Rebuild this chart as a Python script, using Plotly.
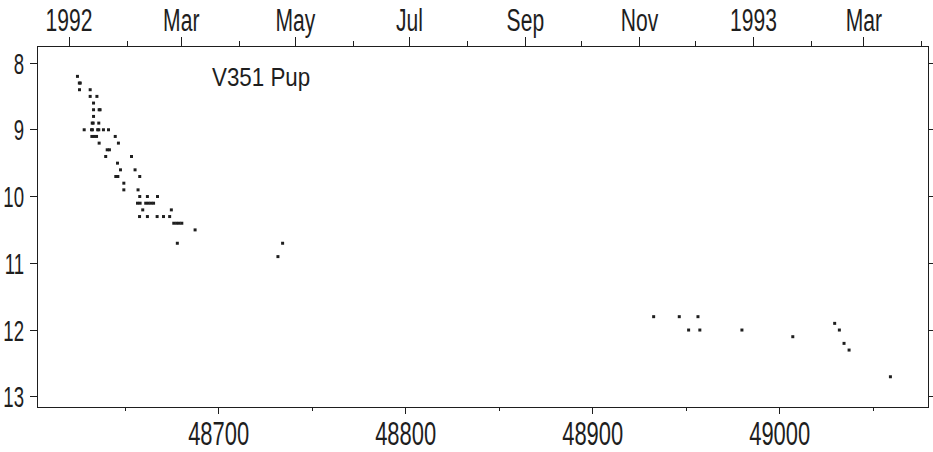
import datetime as dt
import plotly.graph_objects as go

# V351 Pup (Nova Puppis 1991) visual light curve
# Julian Date - 2400000
jd = [
    48624.5, 48625.5, 48626.0, 48625.6, 48631.3, 48631.3, 48634.9, 48633.1,
    48633.1, 48636.1, 48636.6, 48633.1, 48632.4, 48632.9, 48635.9,
    48628.1, 48632.0, 48632.5, 48635.3, 48635.9, 48638.4, 48641.1,
    48632.2, 48633.4, 48634.7, 48644.7, 48636.1, 48646.4, 48640.4, 48641.6,
    48639.6, 48653.4, 48645.9, 48647.5, 48655.3, 48645.0, 48646.1, 48657.8,
    48649.3, 48649.3, 48656.9, 48657.8, 48661.9, 48667.3,
    48656.6, 48658.0, 48661.0, 48662.4, 48663.8, 48665.2,
    48659.4, 48674.7, 48657.7, 48661.9, 48667.1, 48670.5, 48673.8,
    48676.0, 48677.5, 48678.9, 48680.3, 48687.4, 48677.9,
    48734.2, 48731.7,
    48932.6, 48946.3, 48956.3, 48951.3, 48957.3, 48979.8, 49007.0,
    49029.4, 49031.9, 49034.4, 49037.1, 49059.2,
]
mag = [
    8.2, 8.3, 8.3, 8.4, 8.4, 8.5, 8.5, 8.6,
    8.7, 8.7, 8.7, 8.8, 8.9, 8.9, 8.9,
    9.0, 9.0, 9.0, 9.0, 9.0, 9.0, 9.0,
    9.1, 9.1, 9.1, 9.1, 9.2, 9.2, 9.3, 9.3,
    9.4, 9.4, 9.5, 9.6, 9.6, 9.7, 9.7, 9.7,
    9.8, 9.9, 9.9, 10.0, 10.0, 10.0,
    10.1, 10.1, 10.1, 10.1, 10.1, 10.1,
    10.2, 10.2, 10.3, 10.3, 10.3, 10.3, 10.3,
    10.4, 10.4, 10.4, 10.4, 10.5, 10.7,
    10.7, 10.9,
    11.8, 11.8, 11.8, 12.0, 12.0, 12.0, 12.1,
    11.9, 12.0, 12.2, 12.3, 12.7,
]

star_name = "V351 Pup"
jd_range = [48603.4, 49079.3]
mag_range = [13.153, 7.76]
mag_ticks = [8, 9, 10, 11, 12, 13]
jd_major = [48700, 48800, 48900, 49000]
jd_minor = [48650, 48750, 48850, 48950, 49050]

# calendar scale on top: JD-2400000 of 1992 Jan 1 on this scale
date_zero = 48620.0
month_starts = [dt.date(1992 + (m - 1) // 12, (m - 1) % 12 + 1, 1) for m in range(1, 17)]
month_names = {3: "Mar", 5: "May", 7: "Jul", 9: "Sep", 11: "Nov"}


def to_jd(d):
    return date_zero + (d - dt.date(1992, 1, 1)).days


top_major, top_text, top_minor = [], [], []
for d in month_starts:
    if d.month % 2 == 1:
        top_major.append(to_jd(d))
        top_text.append(str(d.year) if d.month == 1 else month_names[d.month])
    else:
        top_minor.append(to_jd(d))

ink = "#1e1e1e"
font_family = "Liberation Sans, Arial, sans-serif"

fig = go.Figure()
fig.add_trace(go.Scatter(
    x=jd, y=mag, mode="markers",
    marker=dict(symbol="square", size=3, color=ink, line=dict(width=0)),
    hoverinfo="x+y", showlegend=False,
))
# carrier trace so the calendar axis is drawn
fig.add_trace(go.Scatter(
    x=jd, y=mag, mode="markers", xaxis="x2",
    marker=dict(size=1, opacity=0), hoverinfo="skip", showlegend=False,
))

fig.update_layout(
    width=933, height=452,
    margin=dict(l=38, r=5, t=47, b=45),
    paper_bgcolor="white", plot_bgcolor="white",
    font=dict(family=font_family, color=ink),
    xaxis=dict(
        range=jd_range, tickmode="array", tickvals=jd_major,
        ticktext=[str(v) for v in jd_major], automargin=False,
        ticks="outside", ticklen=6, tickwidth=1, tickcolor=ink,
        ticklabelstandoff=-9,
        showline=True, linecolor=ink, linewidth=1, mirror=False,
        showgrid=False, zeroline=False,
        tickfont=dict(size=33, family=font_family, color=ink),
        minor=dict(tickmode="array", tickvals=jd_minor, ticks="outside",
                   ticklen=3, tickwidth=1, tickcolor=ink, showgrid=False),
    ),
    xaxis2=dict(
        overlaying="x", side="top", anchor="y", automargin=False,
        range=jd_range, tickmode="array", tickvals=top_major, ticktext=top_text,
        ticks="outside", ticklen=9, tickwidth=1, tickcolor=ink,
        ticklabelstandoff=-6,
        showline=True, linecolor=ink, linewidth=1,
        showgrid=False, zeroline=False,
        tickfont=dict(size=31, family=font_family, color=ink),
        minor=dict(tickmode="array", tickvals=top_minor, ticks="outside",
                   ticklen=5, tickwidth=1, tickcolor=ink, showgrid=False),
    ),
    yaxis=dict(
        range=mag_range, tickmode="array", tickvals=mag_ticks, automargin=False,
        ticks="outside", ticklen=7, tickwidth=1, tickcolor=ink,
        showline=True, linecolor=ink, linewidth=1, mirror="ticks",
        showgrid=False, zeroline=False,
        tickfont=dict(size=30, family=font_family, color=ink),
    ),
    annotations=[dict(
        text=star_name, xref="paper", yref="paper", x=0.2506, y=0.917,
        xanchor="center", yanchor="middle", showarrow=False,
        font=dict(size=26, family=font_family, color=ink),
    )],
)

# narrow the lettering horizontally (condensed plotter-style labels)
condense_js = """
var gd = document.getElementById('{plot_id}');
function condense() {
  var specs = [['.xtick text', 0.665], ['.x2tick text', 0.68],
               ['.ytick text', 0.62], ['.annotation-text', 0.86]];
  specs.forEach(function (s) {
    gd.querySelectorAll(s[0]).forEach(function (t) {
      if (t.getAttribute('data-cond')) return;
      var w = t.getComputedTextLength();
      t.setAttribute('textLength', (w * s[1]).toFixed(2));
      t.setAttribute('lengthAdjust', 'spacingAndGlyphs');
      t.setAttribute('data-cond', '1');
    });
  });
}
condense();
gd.on('plotly_afterplot', condense);
"""

fig.write_html("out.html", post_script=condense_js)
